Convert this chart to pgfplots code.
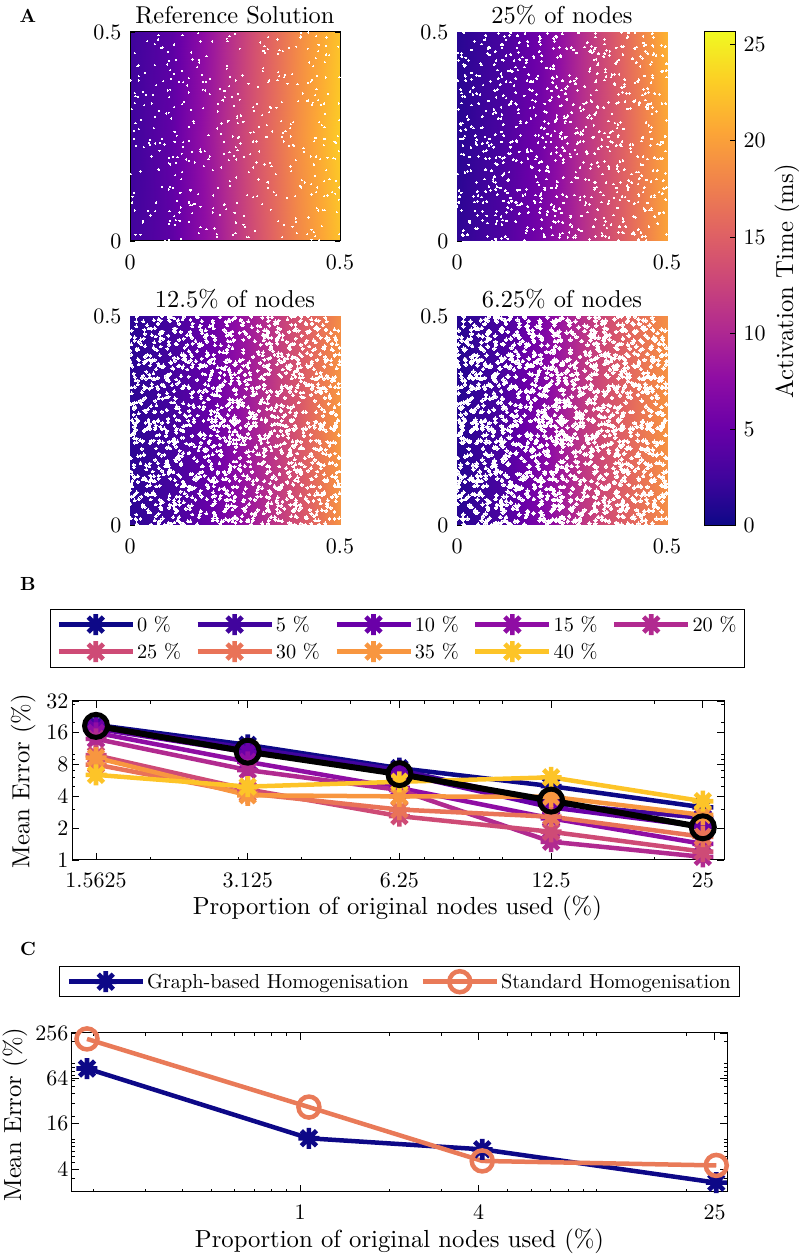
\documentclass[border=0pt]{standalone}
\usepackage{fontspec}
\setmainfont{lmroman10-regular.otf}[BoldFont=lmroman10-bold.otf]
\usepackage{pgfplots}
\usepackage{pgfplotstable}
\pgfplotsset{compat=1.18}

\pgfdeclareplotmark{star8}{%
  \pgfpathmoveto{\pgfqpoint{0pt}{\pgfplotmarksize}}\pgfpathlineto{\pgfqpoint{0pt}{-\pgfplotmarksize}}%
  \pgfpathmoveto{\pgfqpoint{\pgfplotmarksize}{0pt}}\pgfpathlineto{\pgfqpoint{-\pgfplotmarksize}{0pt}}%
  \pgfpathmoveto{\pgfqpoint{.72\pgfplotmarksize}{.72\pgfplotmarksize}}\pgfpathlineto{\pgfqpoint{-.72\pgfplotmarksize}{-.72\pgfplotmarksize}}%
  \pgfpathmoveto{\pgfqpoint{.72\pgfplotmarksize}{-.72\pgfplotmarksize}}\pgfpathlineto{\pgfqpoint{-.72\pgfplotmarksize}{.72\pgfplotmarksize}}%
  \pgfusepathqstroke}

\definecolor{c0}{RGB}{13,8,135}
\definecolor{c5}{RGB}{65,4,157}
\definecolor{c10}{RGB}{106,0,168}
\definecolor{c15}{RGB}{143,13,164}
\definecolor{c20}{RGB}{177,42,144}
\definecolor{c25}{RGB}{206,75,118}
\definecolor{c30}{RGB}{233,115,88}
\definecolor{c35}{RGB}{248,150,64}
\definecolor{c40}{RGB}{253,196,40}
\definecolor{cstd}{RGB}{233,122,88}

\newcommand{\tickfont}{\fontsize{22}{26}\selectfont}
\newcommand{\labfont}{\fontsize{24.7}{29}\selectfont}
\newcommand{\titfont}{\fontsize{24.4}{28}\selectfont}
\newcommand{\legfont}{\fontsize{20.3}{24}\selectfont}

\pgfplotsset{
  colormap={plasma}{rgb255=(13,8,135) rgb255=(65,4,157) rgb255=(106,0,168) rgb255=(143,13,164)
    rgb255=(177,42,144) rgb255=(204,71,120) rgb255=(225,100,98) rgb255=(241,132,75)
    rgb255=(252,166,54) rgb255=(252,206,37) rgb255=(240,249,33)},
  panel/.style={scale only axis, width=210pt, height=209pt,
    xmin=0, xmax=0.5, ymin=0, ymax=0.5,
    xtick={0,0.5}, ytick={0,0.5}, xticklabels={0,0.5}, yticklabels={0,0.5},
    tick align=inside, major tick length=5pt, tick style={black, line width=0.8pt},
    axis line style={line width=1pt},
    point meta min=0, point meta max=25.66,
    tick label style={font=\tickfont}, title style={font=\titfont, yshift=-2pt},
    xticklabel style={yshift=-10pt}, yticklabel style={xshift=-5pt}},
  errax/.style={scale only axis,
    tick align=inside, major tick length=7pt, minor tick length=3.5pt,
    tick style={black, line width=0.8pt}, axis line style={line width=1pt},
    clip=false, tick label style={font=\tickfont}, tick pos=both,
    xticklabel style={yshift=-9pt},
    legend cell align=left},
  nobox/.style={axis x line*=bottom, axis y line*=left},
  gr/.style={surf, shader=interp, mesh/cols=6, point meta=explicit, forget plot},
  holes/.style={only marks, mark=*, white, mark options={fill=white, draw=white, line width=0pt}, forget plot},
  ser/.style={color=#1, line width=4.5pt, mark=star8, mark size=10.5pt, mark options={solid, line width=4.6pt}},
  leg/.style={legend image code/.code={\draw[mark repeat=2, mark phase=2, ##1]
    plot coordinates {(0pt,0pt) (37pt,0pt) (74pt,0pt)};}}
}

\pgfplotstableread{
x y c
0 0 2.6
.1 0 4.4
.2 0 8.6
.3 0 13.6
.4 0 18.2
.5 0 22.2
0 .25 2.4
.1 .25 4.6
.2 .25 9.2
.3 .25 14.2
.4 .25 18.8
.5 .25 23.0
0 .5 2.4
.1 .5 4.2
.2 .5 8.8
.3 .5 13.8
.4 .5 18.4
.5 .5 22.4
}\gradA
\pgfplotstableread{
x y c
0 0 1.6
.1 0 3.2
.2 0 6.0
.3 0 10.6
.4 0 15.2
.5 0 20.2
0 .25 1.3
.1 .25 3.0
.2 .25 5.8
.3 .25 10.8
.4 .25 15.4
.5 .25 20.4
0 .5 1.3
.1 .5 2.8
.2 .5 5.6
.3 .5 10.6
.4 .5 15.8
.5 .5 21.4
}\gradB
\pgfplotstableread{
x y c
0 0 1.6
.1 0 2.9
.2 0 5.2
.3 0 9.4
.4 0 13.6
.5 0 19.0
0 .25 1.5
.1 .25 2.8
.2 .25 5.2
.3 .25 9.6
.4 .25 14.2
.5 .25 19.6
0 .5 1.5
.1 .5 2.8
.2 .5 5.4
.3 .5 9.6
.4 .5 13.8
.5 .5 18.6
}\gradC
\pgfplotstableread{
x y c
0 0 1.3
.1 0 3.0
.2 0 6.6
.3 0 11.4
.4 0 15.0
.5 0 18.6
0 .25 1.2
.1 .25 3.0
.2 .25 6.6
.3 .25 11.6
.4 .25 15.4
.5 .25 19.2
0 .5 1.2
.1 .5 2.8
.2 .5 6.2
.3 .5 11.0
.4 .5 15.0
.5 .5 18.8
}\gradD
\pgfplotstableread{
x y c
0 0 0
1 0 0
0 25.66 25.66
1 25.66 25.66
}\gradBar

\pgfplotstableread[row sep=\\]{
x y\\
.141 .092\\.153 .089\\.293 .238\\.462 .143\\.383 .279\\.002 .384\\.197 .169\\.399 .375\\.105 .320\\.474 .444\\.092 .307\\.316 .406\\.286 .208\\.498 .128\\.034 .325\\.342 .117\\.067 .482\\.148 .086\\.013 .282\\.306 .147\\.093 .344\\.109 .050\\.082 .231\\.225 .359\\.408 .128\\.481 .117\\.450 .284\\.102 .201\\.438 .021\\.105 .059\\
.144 .122\\.448 .454\\.430 .381\\.464 .428\\.310 .475\\.165 .433\\.446 .128\\.475 .148\\.233 .286\\.283 .165\\.271 .201\\.409 .145\\.148 .066\\.423 .460\\.348 .110\\.454 .326\\.148 .213\\.393 .107\\.260 .249\\.141 .273\\.224 .087\\.006 .106\\.315 .088\\.174 .381\\.020 .420\\.462 .329\\.254 .091\\.215 .364\\.367 .392\\.090 .360\\
.011 .330\\.030 .048\\.320 .466\\.021 .384\\.146 .451\\.441 .011\\.109 .433\\.057 .270\\.365 .259\\.091 .453\\.092 .186\\.117 .381\\.432 .111\\.293 .105\\.118 .048\\.074 .462\\.379 .462\\.249 .067\\.351 .385\\.252 .224\\.391 .227\\.438 .183\\.011 .449\\.129 .333\\.173 .362\\.440 .156\\.143 .086\\.021 .394\\.446 .395\\.224 .237\\
.190 .202\\.179 .360\\.443 .202\\.270 .039\\.217 .176\\.293 .176\\.252 .384\\.174 .318\\.467 .169\\.405 .132\\.218 .281\\.328 .459\\.045 .235\\.360 .287\\.471 .352\\.162 .497\\.257 .247\\.093 .199\\.459 .074\\.466 .467\\.127 .224\\.076 .130\\.353 .047\\.094 .071\\.382 .178\\.025 .166\\.427 .427\\.466 .391\\.432 .003\\.059 .421\\
.317 .413\\.096 .129\\.043 .072\\.400 .334\\.295 .260\\.095 .130\\.238 .132\\.328 .127\\.443 .490\\.263 .233\\.329 .380\\.253 .195\\.251 .019\\.011 .073\\.334 .187\\.430 .202\\.154 .089\\.149 .434\\.384 .167\\.009 .244\\.261 .460\\.168 .082\\.264 .300\\.168 .477\\.411 .353\\.242 .345\\.442 .437\\.107 .039\\.077 .244\\.492 .069\\
.051 .202\\.261 .338\\.106 .261\\.331 .384\\.083 .000\\.252 .044\\.433 .326\\.060 .297\\.106 .237\\.113 .200\\.209 .328\\.209 .127\\.443 .247\\.047 .230\\.196 .477\\.209 .310\\.141 .192\\.336 .319\\.025 .015\\.108 .157\\.463 .272\\.111 .252\\.389 .284\\.425 .056\\.453 .196\\.270 .285\\.449 .469\\.467 .446\\.364 .454\\.405 .487\\
.431 .136\\.389 .230\\.098 .293\\.127 .236\\.178 .215\\.424 .499\\.229 .076\\.351 .482\\.208 .269\\.395 .193\\.168 .033\\.182 .028\\.369 .398\\.496 .465\\.105 .320\\.439 .239\\.329 .488\\.293 .320\\.362 .009\\.443 .117\\.301 .238\\.197 .068\\.416 .140\\.397 .019\\.337 .179\\.320 .183\\.282 .376\\.464 .304\\.295 .311\\.302 .328\\
.282 .009\\.319 .455\\.315 .301\\.256 .217\\.361 .332\\.069 .311\\.250 .496\\.181 .381\\.093 .041\\.190 .351\\.098 .388\\.019 .345\\.307 .273\\.366 .238\\.089 .422\\.379 .228\\.499 .392\\.086 .305\\.325 .249\\.279 .110\\.484 .198\\.444 .363\\.463 .244\\.468 .487\\.060 .233\\.124 .327\\.041 .478\\.123 .209\\.002 .160\\.490 .235\\
.304 .369\\.441 .349\\.146 .314\\.093 .431\\.238 .143\\.140 .046\\.253 .152\\.096 .183\\.190 .388\\.207 .016\\.268 .396\\.424 .378\\.140 .092\\.214 .063\\.049 .061\\.303 .107\\.208 .010\\.383 .250\\.010 .115\\.247 .204\\.171 .398\\.110 .187\\.396 .465\\.021 .267\\.154 .188\\.457 .035\\.035 .402\\.123 .407\\.349 .319\\.334 .321\\
.068 .170\\.121 .005\\.127 .380\\.235 .193\\.033 .224\\.245 .015\\.353 .404\\.230 .419\\.457 .277\\.093 .003\\.160 .416\\.497 .329\\.225 .088\\.187 .196\\.140 .355\\.070 .216\\.226 .344\\.216 .256\\.079 .382\\.151 .287\\.134 .195\\.124 .165\\.201 .030\\.092 .123\\.167 .219\\.432 .027\\.367 .039\\.355 .394\\.489 .197\\.096 .409\\
.254 .091\\.356 .456\\.381 .270\\.236 .370\\.162 .112\\.047 .242\\.222 .336\\.489 .113\\.422 .016\\.445 .078\\.182 .442\\.352 .448\\.136 .372\\.141 .240\\.238 .393\\.441 .247\\.463 .074\\.370 .263\\.255 .294\\.448 .337\\.498 .016\\.125 .492\\.278 .009\\.257 .282\\.062 .092\\.122 .148\\.326 .277\\.433 .386\\.066 .481\\.127 .225\\
.164 .019\\.105 .400\\.491 .144\\.498 .289\\.414 .213\\.062 .373\\.095 .048\\.301 .188\\.224 .209\\.198 .078\\.069 .171\\.375 .376\\.448 .073\\.176 .179\\.237 .490\\.232 .478\\.462 .107\\.038 .350\\.387 .034\\.327 .141\\.072 .235\\.013 .346\\.230 .412\\.297 .024\\.424 .336\\.055 .350\\.237 .212\\.144 .121\\.497 .099\\.435 .331\\
.413 .222\\.165 .427\\.005 .092\\.255 .299\\.450 .001\\.152 .282\\.060 .071\\.470 .109\\.059 .471\\.105 .470\\.274 .034\\.096 .362\\.014 .228\\.017 .418\\.140 .389\\.198 .109\\.052 .329\\.230 .484\\.308 .214\\.321 .450\\.339 .262\\.103 .127\\.495 .251\\.407 .489\\.187 .253\\.396 .046\\.331 .308\\.329 .140\\.120 .115\\.258 .352\\
.395 .054\\.245 .250\\.287 .259\\.461 .229\\.335 .075\\.220 .337\\.031 .357\\.011 .354\\.374 .103\\.408 .498\\.347 .160\\.386 .399\\.470 .199\\.004 .315\\.030 .044\\.027 .290\\.316 .454\\.247 .323\\.068 .492\\.436 .418\\.121 .080\\.078 .463\\.111 .096\\.168 .213\\.013 .015\\.118 .068\\.487 .237\\.235 .288\\.009 .264\\.361 .249\\
.497 .215\\.421 .334\\.271 .060\\
}\specks

\begin{document}
\begin{tikzpicture}
\useasboundingbox (0pt,0pt) rectangle (799pt,1255pt);

% panel A, white specks are the gaps between the nodes
\begin{axis}[panel, at={(130pt,1014pt)}, title={Reference Solution}, axis on top]
\addplot[gr] table[meta=c] {\gradA};
\addplot[holes, mark size=0.6pt] table {\specks};
\end{axis}

\begin{axis}[panel, nobox, at={(457pt,1014pt)}, title={25\% of nodes}]
\addplot[gr] table[meta=c] {\gradB};
\addplot[holes, mark size=0.85pt] table {\specks};
\addplot[holes, mark size=0.85pt] table[x=y, y=x] {\specks};
\end{axis}

\begin{axis}[panel, nobox, at={(130pt,730pt)}, title={12.5\% of nodes}]
\addplot[gr] table[meta=c] {\gradC};
\addplot[holes, mark size=1.45pt] table {\specks};
\addplot[holes, mark size=1.45pt] table[x=y, y=x] {\specks};
\addplot[holes, mark size=1.45pt] table[x expr=0.5-\thisrow{x}, y=y] {\specks};
\addplot[holes, mark size=1.45pt] table[x=y, y expr=0.5-\thisrow{x}] {\specks};
\end{axis}

\begin{axis}[panel, nobox, at={(457pt,730pt)}, title={6.25\% of nodes}]
\addplot[gr] table[meta=c] {\gradD};
\addplot[holes, mark size=1.85pt] table {\specks};
\addplot[holes, mark size=1.85pt] table[x=y, y=x] {\specks};
\addplot[holes, mark size=1.85pt] table[x expr=0.5-\thisrow{x}, y=y] {\specks};
\addplot[holes, mark size=1.85pt] table[x=y, y expr=0.5-\thisrow{x}] {\specks};
\end{axis}

% colour scale of panel A
\begin{axis}[scale only axis, at={(704.5pt,729.3pt)}, width=30.5pt, height=493.7pt,
  xmin=0, xmax=1, ymin=0, ymax=25.66, xtick=\empty,
  ytick={0,5,...,25}, yticklabels={0,5,10,15,20,25},
  ytick pos=right, yticklabel pos=right, tick align=inside, major tick length=5pt,
  tick style={black, line width=0.8pt}, axis line style={line width=1pt}, axis on top,
  tick label style={font=\tickfont}, yticklabel style={xshift=5pt}, point meta min=0, point meta max=25.66,
  ylabel={Activation Time (ms)},
  every axis y label/.style={at={(axis description cs:2.7,0.495)}, rotate=90, anchor=center, font=\labfont}]
\addplot[surf, shader=interp, mesh/cols=2, point meta=explicit] table[meta=c] {\gradBar};
\end{axis}

% panel B
\begin{loglogaxis}[errax, leg, at={(72pt,395pt)}, width=652pt, height=159pt,
  xmin=1.4, xmax=27.54, ymin=1, ymax=32,
  xtick={1.5625,3.125,6.25,12.5,25}, xticklabels={1.5625,3.125,6.25,12.5,25},
  minor xtick={2,3,4,5,6,7,8,9,10,20},
  ytick={1,2,4,8,16,32}, yticklabels={1,2,4,8,16,32},
  minor ytick={3,5,6,7,9,10,20,30},
  xlabel={Proportion of original nodes used (\%)}, ylabel={Mean Error (\%)},
  every axis x label/.style={at={(axis description cs:0.499,-0.302)}, anchor=center, font=\labfont},
  every axis y label/.style={at={(axis description cs:-0.075,0.497)}, rotate=90, anchor=center, font=\labfont},
  legend style={at={(axis description cs:-0.0337,1.21)}, anchor=south west, draw=black, line width=1pt,
    font=\legfont, legend columns=5, inner xsep=6pt, inner ysep=5pt,
    /tikz/every even column/.append style={column sep=12.4pt},
    /tikz/row sep=6pt}]
\addplot[ser=c0]  coordinates {(1.5625,19.0) (3.125,12.3) (6.25,7.4) (12.5,5.0) (25,3.15)};
\addplot[ser=c5]  coordinates {(1.5625,18.5) (3.125,11.5) (6.25,7.1) (12.5,3.44) (25,2.5)};
\addplot[ser=c10] coordinates {(1.5625,17.5) (3.125,10.5) (6.25,6.6) (12.5,3.15) (25,2.07)};
\addplot[ser=c15] coordinates {(1.5625,16.0) (3.125,8.5) (6.25,4.8) (12.5,2.48) (25,1.42)};
\addplot[ser=c20] coordinates {(1.5625,14.0) (3.125,7.1) (6.25,4.6) (12.5,1.49) (25,1.07)};
\addplot[ser=c25] coordinates {(1.5625,9.8) (3.125,4.66) (6.25,2.6) (12.5,1.85) (25,1.2)};
\addplot[ser=c30] coordinates {(1.5625,8.0) (3.125,4.27) (6.25,3.0) (12.5,2.57) (25,1.66)};
\addplot[ser=c35] coordinates {(1.5625,9.3) (3.125,4.1) (6.25,4.0) (12.5,3.97) (25,2.67)};
\addplot[ser=c40] coordinates {(1.5625,6.4) (3.125,4.95) (6.25,5.5) (12.5,6.06) (25,3.6)};
\addplot[black, line width=6pt, mark=o, mark size=11.5pt, mark options={solid, line width=5pt}, forget plot]
  coordinates {(1.5625,18.6) (3.125,10.6) (6.25,6.5) (12.5,3.65) (25,2.04)};
\legend{0 \%,5 \%,10 \%,15 \%,20 \%,25 \%,30 \%,35 \%,40 \%}
\end{loglogaxis}

% panel C
\begin{loglogaxis}[errax, leg, at={(72pt,63pt)}, width=655pt, height=159pt,
  xmin=0.17, xmax=27.5, ymin=2, ymax=256,
  xtick={1,4,25}, xticklabels={1,4,25},
  minor xtick={.2,.3,.4,.5,.6,.7,.8,.9,2,3,5,6,7,8,9,10,20},
  ytick={4,16,64,256}, yticklabels={4,16,64,256},
  minor ytick={3,5,6,7,8,9,10,20,30,40,50,60,70,80,90,100,200},
  xlabel={Proportion of original nodes used (\%)}, ylabel={Mean Error (\%)},
  every axis x label/.style={at={(axis description cs:0.5,-0.31)}, anchor=center, font=\labfont},
  every axis y label/.style={at={(axis description cs:-0.087,0.487)}, rotate=90, anchor=center, font=\labfont},
  legend style={at={(axis description cs:-0.0198,1.225)}, anchor=south west, draw=black, line width=1pt,
    font=\legfont, legend columns=2, inner xsep=7pt, inner ysep=4.5pt,
    /tikz/every even column/.append style={column sep=10pt}}]
\addplot[ser=c0] coordinates {(0.191,86.6) (1.07,10.3) (4.11,7.35) (25.3,2.66)};
\addplot[color=cstd, line width=4.5pt, mark=o, mark size=10.5pt, mark options={solid, line width=4.5pt}]
  coordinates {(0.191,213.6) (1.07,26.7) (4.11,5.16) (25.3,4.5)};
\legend{Graph-based Homogenisation,Standard Homogenisation}
\end{loglogaxis}

\node[font=\fontsize{19}{23}\selectfont\bfseries] at (28pt,1239pt) {A};
\node[font=\fontsize{19}{23}\selectfont\bfseries] at (28pt,671pt) {B};
\node[font=\fontsize{19}{23}\selectfont\bfseries] at (28pt,306pt) {C};
\end{tikzpicture}
\end{document}
